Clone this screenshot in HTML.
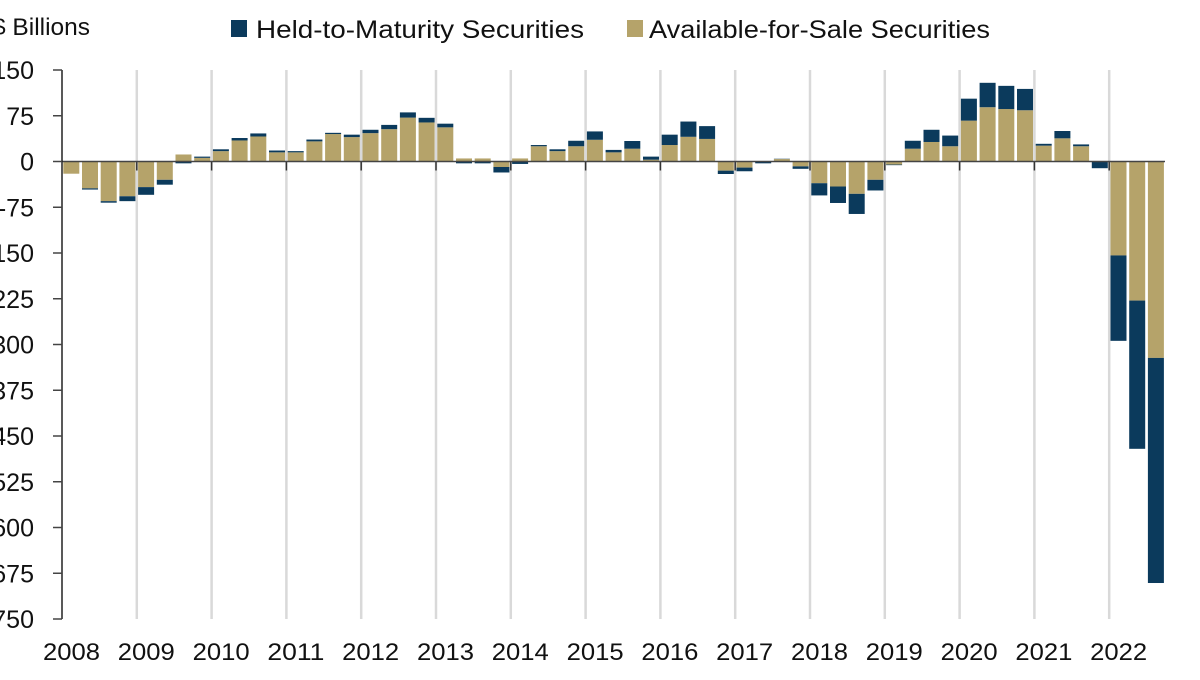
<!DOCTYPE html>
<html><head><meta charset="utf-8"><style>
html,body{margin:0;padding:0;background:#fff;overflow:hidden}
svg text{font-family:"Liberation Sans",sans-serif;fill:#111}
</style></head><body>
<svg id="chart" width="1200" height="675" xmlns="http://www.w3.org/2000/svg">
<text x="-8" y="35" font-size="24" textLength="98" lengthAdjust="spacingAndGlyphs">$ Billions</text>
<g>
<rect x="231" y="20" width="16" height="17" fill="#0b3a5c"/>
<text x="256" y="38" font-size="25" textLength="328" lengthAdjust="spacingAndGlyphs">Held-to-Maturity Securities</text>
<rect x="627" y="20" width="16" height="17" fill="#b5a36a"/>
<text x="649" y="38" font-size="25" textLength="341" lengthAdjust="spacingAndGlyphs">Available-for-Sale Securities</text>
</g>
<g id="grid"></g><g id="bars"></g><g id="axes"></g>
</svg>
<script>
const years=["2008","2009","2010","2011","2012","2013","2014","2015","2016","2017","2018","2019","2020","2021","2022"];
const yTicks=[150,75,0,-75,-150,-225,-300,-375,-450,-525,-600,-675,-750];
const afs=[-20,-44,-65,-57,-42,-30,11.5,6,17,34.5,41,15,15,33,45,40,46.5,53,72,64,56,5,5,-9,5,25,17,25,35.6,15,21,3,27,40.5,37,-15,-10,0,4,-8,-35.6,-41,-53,-30,-5,21,32,25,67,89,86,84,26,38,25,0,-154,-228,-322];
const htm=[0,-2,-2.5,-8,-12.6,-8,-3,2,3,4,5,3,2,3,2,4,5.5,7,8.5,7.6,6,-3,-3,-9,-4,2,3,9,13.7,4,12.6,5,17,25,21,-5.5,-6,-3,0.5,-4,-20,-27,-33,-17.5,-1,13,20,17.5,36,40,38,35,3,12,3,-11,-140,-243,-369];
const NS='http://www.w3.org/2000/svg';
const x0=62,slot=18.7,yTop=70,yBot=619,vMax=150,vMin=-750;
const y=v=>yTop+(vMax-v)/(vMax-vMin)*(yBot-yTop);
const xq=i=>x0+i*slot;
function mk(tag,attrs,parent){const e=document.createElementNS(NS,tag);for(const k in attrs)e.setAttribute(k,attrs[k]);document.getElementById(parent).appendChild(e);return e;}
years.forEach((yr,i)=>{
  const gx=xq(i*4);
  if(i>0){const g=mk('line',{x1:gx,x2:gx,y1:yTop,y2:yBot,stroke:'#d9d9d9','stroke-width':2.5},'grid');
  
  
  const t=mk('line',{x1:gx,x2:gx,y1:y(0),y2:y(0)+9,stroke:'#333','stroke-width':1.5},'axes');
  
  }
  const l=mk('text',{x:gx-19,y:660,'font-size':24,textLength:57,lengthAdjust:'spacingAndGlyphs'},'axes');l.textContent=yr;
  
  
});
afs.forEach((a,i)=>{
  const h=htm[i],bx=xq(i)+1.3,w=16;
  let pos=0,neg=0;
  [[a,'#b5a36a','bar-afs'],[h,'#0b3a5c','bar-htm']].forEach(([v,c,n])=>{
    let top,bot;
    if(v>=0){top=y(pos+v);bot=y(pos);pos+=v;}else{top=y(neg);bot=y(neg+v);neg+=v;}
    if(bot-top<=0)return;
    const r=mk('rect',{x:bx,y:top,width:w,height:bot-top,fill:c},'bars');
    
    
  });
});
const za=mk('line',{x1:x0,x2:1165,y1:y(0),y2:y(0),stroke:'#444','stroke-width':1.5},'axes');


const ya=mk('line',{x1:x0,x2:x0,y1:yTop,y2:yBot,stroke:'#222','stroke-width':1.5},'axes');


yTicks.forEach(v=>{
  const t=mk('line',{x1:53,x2:x0,y1:y(v),y2:y(v),stroke:'#444','stroke-width':1.5},'axes');
  
  
  const l=mk('text',{x:34,y:y(v)+9,'font-size':25,'text-anchor':'end'},'axes');l.textContent=v;
  
  
});
</script>
</body></html>
